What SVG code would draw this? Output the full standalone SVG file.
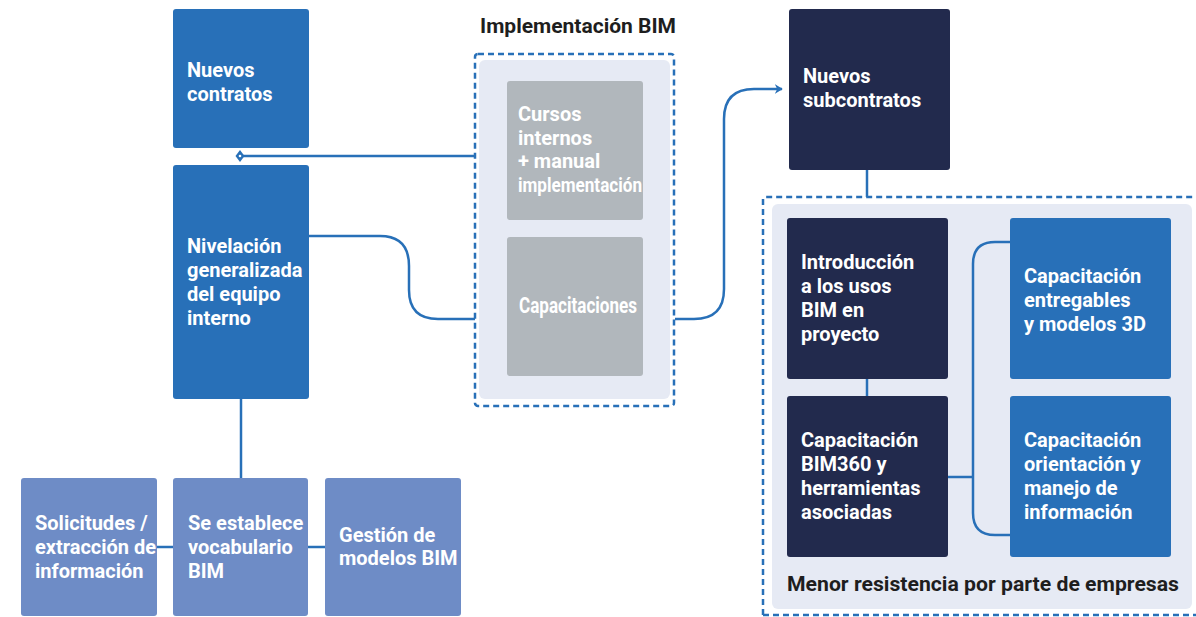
<svg xmlns="http://www.w3.org/2000/svg" width="1196" height="617" viewBox="0 0 1196 617">
<style>
.t{font-family:Roboto,"Liberation Sans",sans-serif;font-weight:700;font-size:20px;fill:#fff}
.h{font-family:Roboto,"Liberation Sans",sans-serif;font-weight:700;font-size:21px;fill:#1e1e1e}
.blue{fill:#2870b8}
.navy{fill:#222a4d}
.peri{fill:#6e8cc6}
.gray{fill:#b1b7bc}
.bg{fill:#e6eaf4}
.dash{fill:none;stroke:#2870b8;stroke-width:2.5;stroke-dasharray:6 4}
.c{fill:none;stroke:#2870b8;stroke-width:2.5}
</style>
<defs>
<marker id="arr" viewBox="0 0 10 12" refX="9" refY="6" markerWidth="8" markerHeight="11" orient="auto" markerUnits="userSpaceOnUse">
<path d="M0,0 L10,6 L0,12 L3,6 Z" fill="#2870b8"/>
</marker>
</defs>
<rect width="1196" height="617" fill="#fff"/>

<g id="group-impl">
<rect class="dash" x="475" y="54" width="199" height="352" rx="3"/>
<rect class="bg" x="479" y="60" width="191" height="339" rx="6"/>
<text class="h" x="480" y="33">Implementación BIM</text>
</g>
<g id="group-sub">
<path class="dash" d="M763,615 L763,199 Q763,197 765,197 L1196,197 M763,615 L1196,615"/>
<rect class="bg" x="772" y="204" width="420" height="405" rx="6"/>
<text class="h" x="787" y="591" textLength="392" lengthAdjust="spacingAndGlyphs">Menor resistencia por parte de empresas</text>
</g>

<g id="connectors">
<line class="c" x1="241" y1="156" x2="475" y2="156"/>
<path class="c" d="M309,236 L380,236 Q409,236 409,266 L409,290 Q409,319 438,319 L475,319"/>
<path class="c" d="M675,319 L694,319 Q724,319 724,289 L724,119 Q724,89 754,89 L782,89" marker-end="url(#arr)"/>
<line class="c" x1="867" y1="170" x2="867" y2="197"/>
<line class="c" x1="867" y1="379" x2="867" y2="396"/>
<path class="c" d="M1010,242 L995,242 Q973,242 973,264 L973,513 Q973,535 995,535 L1010,535"/>
<line class="c" x1="948" y1="477" x2="973" y2="477"/>
<line class="c" x1="241" y1="399" x2="241" y2="478"/>
<line class="c" x1="157" y1="547" x2="173" y2="547"/>
<line class="c" x1="308" y1="547" x2="325" y2="547"/>
<polygon points="240,150 244.5,156 240,162 235.5,156" fill="#2870b8"/>
<circle cx="240" cy="156" r="1.3" fill="#fff"/>
</g>

<g id="nuevos-contratos">
<rect class="blue" x="173" y="9" width="136" height="139" rx="3"/>
<text class="t" x="187" y="77">Nuevos</text>
<text class="t" x="187" y="101">contratos</text>
</g>
<g id="nivelacion">
<rect class="blue" x="173" y="165" width="136" height="234" rx="3"/>
<text class="t" x="187" y="253">Nivelación</text>
<text class="t" x="187" y="277">generalizada</text>
<text class="t" x="187" y="301">del equipo</text>
<text class="t" x="187" y="325">interno</text>
</g>
<g id="cursos">
<rect class="gray" x="507" y="81" width="136" height="139" rx="3"/>
<text class="t" x="518" y="121">Cursos</text>
<text class="t" x="518" y="145">internos</text>
<text class="t" x="518" y="168">+ manual</text>
<text class="t" x="518" y="192" style="font-size:20px" textLength="124" lengthAdjust="spacingAndGlyphs">implementación</text>
</g>
<g id="capacitaciones">
<rect class="gray" x="507" y="237" width="136" height="139" rx="3"/>
<text class="t" x="519" y="313" style="font-size:22px" textLength="118" lengthAdjust="spacingAndGlyphs">Capacitaciones</text>
</g>
<g id="nuevos-subcontratos">
<rect class="navy" x="789" y="9" width="161" height="161" rx="3"/>
<text class="t" x="803" y="83">Nuevos</text>
<text class="t" x="803" y="107">subcontratos</text>
</g>
<g id="introduccion">
<rect class="navy" x="787" y="218" width="161" height="161" rx="3"/>
<text class="t" x="801" y="269">Introducción</text>
<text class="t" x="801" y="293">a los usos</text>
<text class="t" x="801" y="317">BIM en</text>
<text class="t" x="801" y="341">proyecto</text>
</g>
<g id="cap-entregables">
<rect class="blue" x="1010" y="218" width="161" height="161" rx="3"/>
<text class="t" x="1024" y="283">Capacitación</text>
<text class="t" x="1024" y="307">entregables</text>
<text class="t" x="1024" y="331">y modelos 3D</text>
</g>
<g id="cap-bim360">
<rect class="navy" x="787" y="396" width="161" height="161" rx="3"/>
<text class="t" x="801" y="447">Capacitación</text>
<text class="t" x="801" y="471">BIM360 y</text>
<text class="t" x="801" y="495">herramientas</text>
<text class="t" x="801" y="519">asociadas</text>
</g>
<g id="cap-orientacion">
<rect class="blue" x="1010" y="396" width="161" height="161" rx="3"/>
<text class="t" x="1024" y="447">Capacitación</text>
<text class="t" x="1024" y="471">orientación y</text>
<text class="t" x="1024" y="495">manejo de</text>
<text class="t" x="1024" y="519">información</text>
</g>
<g id="solicitudes">
<rect class="peri" x="21" y="478" width="136" height="138" rx="3"/>
<text class="t" x="35" y="530">Solicitudes /</text>
<text class="t" x="35" y="554">extracción de</text>
<text class="t" x="35" y="578">información</text>
</g>
<g id="vocabulario">
<rect class="peri" x="173" y="478" width="135" height="138" rx="3"/>
<text class="t" x="188" y="530">Se establece</text>
<text class="t" x="188" y="554">vocabulario</text>
<text class="t" x="188" y="578">BIM</text>
</g>
<g id="gestion">
<rect class="peri" x="325" y="478" width="136" height="138" rx="3"/>
<text class="t" x="339" y="542">Gestión de</text>
<text class="t" x="339" y="565">modelos BIM</text>
</g>
</svg>
